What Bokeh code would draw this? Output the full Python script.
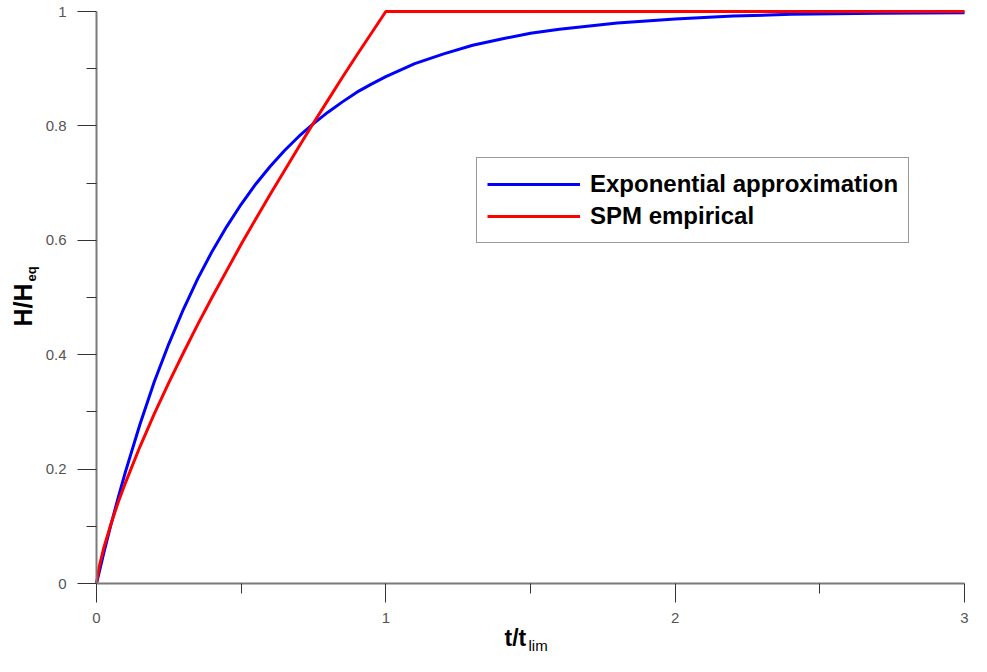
import math
from bokeh.plotting import figure
from bokeh.models import (Range1d, FixedTicker, NumeralTickFormatter, Label, Legend)
from bokeh.embed import file_html
from bokeh.resources import INLINE

# ---- data ----
t_exp = [0, 0.01, 0.025, 0.05, 0.075, 0.1, 0.15, 0.2, 0.25, 0.3, 0.35, 0.4, 0.45, 0.5,
         0.55, 0.6, 0.65, 0.7, 0.75, 0.8, 0.85, 0.9, 0.95, 1.0, 1.1, 1.2, 1.3, 1.4, 1.5,
         1.6, 1.8, 2.0, 2.2, 2.4, 2.7, 3.0]
h_exp = [0, 0.021, 0.053, 0.103, 0.150, 0.195, 0.278, 0.353, 0.419, 0.479, 0.533, 0.581,
         0.624, 0.663, 0.698, 0.729, 0.757, 0.782, 0.804, 0.824, 0.842, 0.859, 0.873, 0.886,
         0.909, 0.926, 0.941, 0.952, 0.962, 0.969, 0.980, 0.987, 0.992, 0.995, 0.997, 0.998]

t_spm = [0, 0.01, 0.025, 0.05, 0.075, 0.1, 0.15, 0.2, 0.25, 0.3, 0.35, 0.4, 0.45, 0.5,
         0.55, 0.6, 0.65, 0.7, 0.75, 0.8, 0.85, 0.9, 0.95, 1.0, 3.0]
h_spm = [0, 0.031, 0.062, 0.104, 0.142, 0.176, 0.239, 0.297, 0.351, 0.403, 0.453, 0.501,
         0.547, 0.593, 0.637, 0.680, 0.722, 0.764, 0.805, 0.845, 0.885, 0.924, 0.962, 1.0, 1.0]

series_names = ["Exponential approximation", "SPM empirical"]
x_major = [0, 1, 2, 3]
x_minor = [0.5, 1.5, 2.5]
y_major = [0, 0.2, 0.4, 0.6, 0.8, 1.0]
y_minor = [0.1, 0.3, 0.5, 0.7, 0.9]
x_lim = (0, 3)
y_lim = (0, 1)

# ---- layout (canvas pixels) ----
W, H = 971, 656
X0_PX, X3_PX = 96, 964      # where t=0 and t=3 fall
Y0_PX, Y1_PX = 583, 11      # where H=0 and H=1 fall
SX = (X3_PX - X0_PX) / (x_lim[1] - x_lim[0])
SY = (Y0_PX - Y1_PX) / (y_lim[1] - y_lim[0])
FONT = "Liberation Sans"
MID = 0.3465  # distance (in em) from the text-box middle down to the baseline

def dx(px):
    return (px - X0_PX) / SX

def dy(py):
    return (Y0_PX - py) / SY

# the frame fills the whole canvas; the axes sit at fixed data positions
p = figure(width=W, height=H,
           x_range=Range1d(dx(0), dx(W)), y_range=Range1d(dy(H), dy(0)),
           output_backend="svg", toolbar_location=None)
p.min_border = 0
p.min_border_left = 0
p.min_border_right = 0
p.min_border_top = 0
p.min_border_bottom = 0
p.outline_line_color = None
p.xgrid.visible = False
p.ygrid.visible = False
p.background_fill_color = "white"
p.border_fill_color = "white"

p.xaxis[0].fixed_location = 0
p.yaxis[0].fixed_location = 0
p.xaxis[0].bounds = x_lim
p.yaxis[0].bounds = y_lim

for ax, maj, mnr in ((p.xaxis[0], x_major, x_minor), (p.yaxis[0], y_major, y_minor)):
    ax.ticker = FixedTicker(ticks=maj, minor_ticks=mnr)
    ax.formatter = NumeralTickFormatter(format="0.[0]")
    ax.axis_line_color = "#7a7a7a"
    ax.axis_line_width = 2
    ax.major_tick_line_color = "#333333"
    ax.minor_tick_line_color = "#333333"
    ax.major_tick_line_width = 1
    ax.minor_tick_line_width = 1
    ax.major_tick_out = 19
    ax.major_tick_in = 0
    ax.minor_tick_out = 10
    ax.minor_tick_in = 0
    ax.major_label_text_font = FONT
    ax.major_label_text_font_size = "15px"
    ax.major_label_text_color = "#555555"
p.yaxis[0].major_label_standoff = 11
p.xaxis[0].major_label_standoff = 10

r_exp = p.line(t_exp, h_exp, line_color="#0000ff", line_width=3, line_join="round")
r_spm = p.line(t_spm, h_spm, line_color="#ff0000", line_width=3, line_join="round")

LEG_LEFT, LEG_BOTTOM = 476, 243
legend = Legend(items=[(series_names[0], [r_exp]), (series_names[1], [r_spm])],
                location=(LEG_LEFT, H - LEG_BOTTOM))
legend.label_text_font = FONT
legend.label_text_font_style = "bold"
legend.label_text_font_size = "24px"
legend.label_text_color = "black"
legend.label_height = 32
legend.glyph_height = 32
legend.glyph_width = 93
legend.label_standoff = 10
legend.spacing = 0
legend.padding = 10
legend.margin = 0
legend.border_line_color = "#333333"
legend.border_line_width = 1
legend.background_fill_color = "white"
legend.background_fill_alpha = 1
p.add_layout(legend, "center")

def label(text, base_x, base_y, size, style, rotated=False):
    # base_x/base_y: canvas pixel of the text start on its baseline
    off = MID * size
    if rotated:
        x, y, ang = base_x - off, base_y, math.pi / 2
    else:
        x, y, ang = base_x, base_y - off, 0
    return Label(x=dx(x), y=dy(y), text=text, angle=ang, text_font=FONT,
                 text_font_style=style, text_font_size=f"{size}px", text_align="left",
                 text_baseline="middle", text_color="black")

labels = [
    label("H/H", 31, 326, 25, "bold", rotated=True),
    label("eq", 35.5, 281, 13, "bold", rotated=True),
    label("t/t", 504, 645, 23, "bold"),
    label("lim", 528, 650, 15, "normal"),
]
for lb in labels:
    p.add_layout(lb)

open("out.html", "w").write(file_html(p, INLINE))
